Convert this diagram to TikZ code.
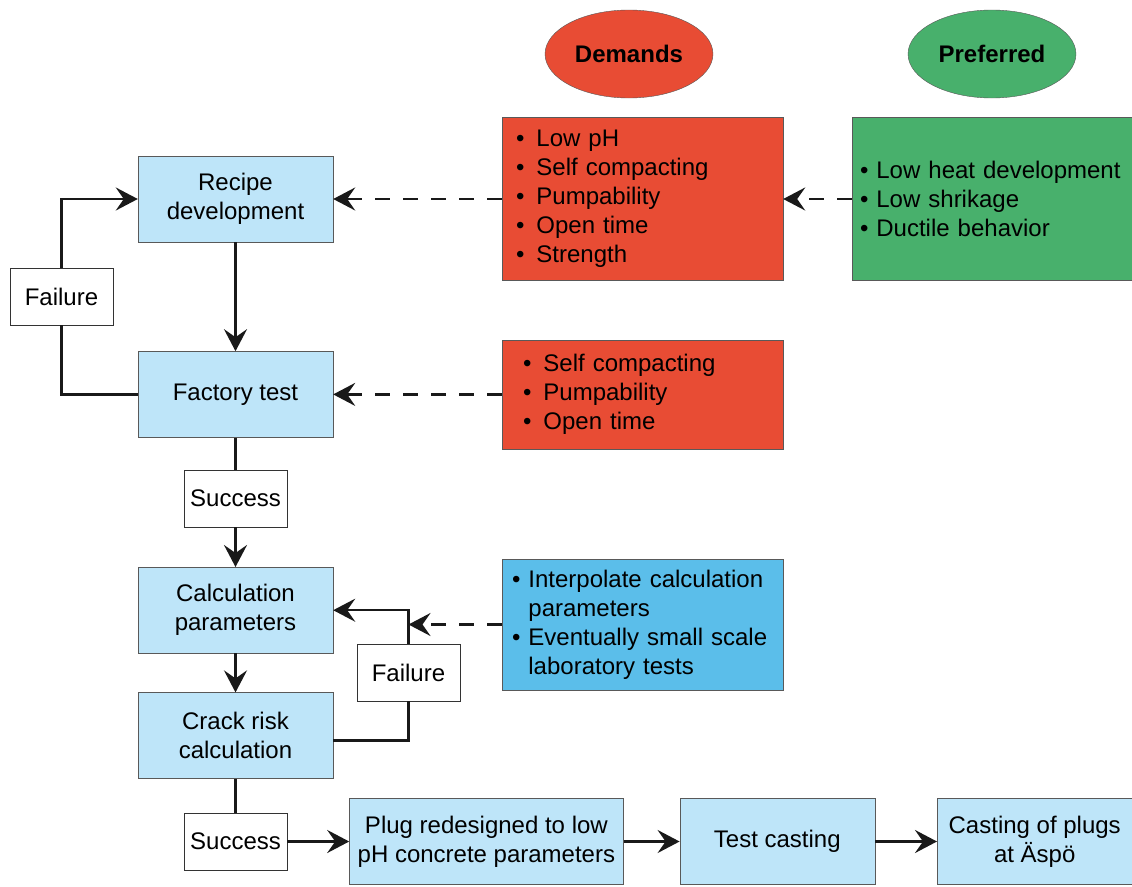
\documentclass[tikz,border=0pt]{standalone}
\usepackage{fontspec}
\setmainfont{Liberation Sans}
\usepackage{tikz}
\usetikzlibrary{arrows.meta,positioning,shapes.geometric,calc}

\definecolor{demandred}{RGB}{232,76,52}
\definecolor{prefgreen}{RGB}{72,176,108}
\definecolor{steplight}{RGB}{190,229,249}
\definecolor{notesblue}{RGB}{91,190,234}
\newcommand{\bigtxt}{\fontsize{24}{29}\selectfont}
\newcommand{\bul}{\textbullet\ }
\newcommand{\rbul}{\textbullet\hspace{12pt}}
\newcommand{\nobul}{\phantom{\textbullet\ }}

\begin{document}
\begin{tikzpicture}[
  x=1pt, y=-1pt,
  stepbox/.style={draw=black!65, fill=steplight, minimum width=195pt, minimum height=86pt,
              inner sep=0pt, align=center, font=\bigtxt},
  outcome/.style={draw=black!80, fill=white, minimum width=103pt, minimum height=57pt,
              inner sep=0pt, font=\bigtxt},
  reqbox/.style={draw=black!65, inner ysep=0pt, align=left, font=\bigtxt},
  tag/.style={ellipse, draw=black!65, minimum width=168pt, minimum height=88pt,
              inner sep=0pt, font=\bigtxt\bfseries},
  arrow/.style={-{Stealth[length=22pt, width=23pt, inset=8pt]}, line width=2.5pt, black!90},
  link/.style={line width=2.5pt, black!90},
  hint/.style={-{Stealth[length=22pt, width=23pt, inset=8pt]}, line width=2.5pt, black!90,
              dash pattern=on 15pt off 13pt}
]
  \useasboundingbox (0,0) rectangle (1132,886);

  % Left: main chain
  \node[stepbox] (recipe) at (235.5,199) {Recipe\\development};
  \node[stepbox, below=109pt of recipe] (factory) {Factory test};
  \node[outcome, below=32pt of factory] (succA) {Success};
  \node[stepbox, below=40pt of succA] (calc) {Calculation\\parameters};
  \node[stepbox, below=39pt of calc] (crack) {Crack risk\\calculation};
  \node[outcome, below=34pt of crack] (succB) {Success};

  % Bottom: final steps
  \node[stepbox, minimum width=274pt, right=62pt of succB] (plug) {Plug redesigned to low\\pH concrete parameters};
  \node[stepbox, right=56pt of plug] (casting) {Test casting};
  \node[stepbox, right=62pt of casting] (plugs) {Casting of plugs\\at Äspö};

  % Failure loops
  \node[outcome] (failA) at (61.5,296.5) {Failure};
  \node[outcome] (failB) at (408.5,672.5) {Failure};

  % Right: requirements
  \node[tag, fill=demandred] (demands) at (629,54) {Demands};
  \node[tag, fill=prefgreen] (preferred) at (992,54) {Preferred};
  \node[reqbox, fill=demandred, inner xsep=14pt, text width=253pt, minimum height=163pt]
    (demA) at (642.5,198.5) {\rbul Low pH\\\rbul Self compacting\\\rbul Pumpability\\\rbul Open time\\\rbul Strength};
  \node[reqbox, fill=prefgreen, inner xsep=8pt, text width=264pt, minimum height=163pt]
    (pref) at (992,198.5) {\bul Low heat development\\\bul Low shrikage\\\bul Ductile behavior};
  \node[reqbox, fill=demandred, inner xsep=21pt, text width=239pt, minimum height=109pt]
    (demB) at (642.5,394.5) {\rbul Self compacting\\\rbul Pumpability\\\rbul Open time};
  \node[reqbox, fill=notesblue, inner xsep=10pt, text width=261pt, minimum height=131pt]
    (interp) at (642.5,624.5) {\bul Interpolate calculation\\\nobul parameters\\\bul Eventually small scale\\\nobul laboratory tests};

  % Arrows
  \draw[arrow] (recipe) -- (factory);
  \draw[link] (factory) -- (succA);
  \draw[arrow] (succA) -- (calc);
  \draw[arrow] (calc) -- (crack);
  \draw[link] (crack) -- (succB);
  \draw[arrow] (succB) -- (plug);
  \draw[arrow] (plug) -- (casting);
  \draw[arrow] (casting) -- (plugs);
  \draw[link] (factory.west) -| (failA.south);
  \draw[arrow] (failA.north) |- (recipe.west);
  \draw[link] ([yshift=-5pt]crack.east) -| (failB.south);
  \draw[arrow] (failB.north) |- (calc.east);

  % Dashed inputs
  \draw[hint] (demA.west |- recipe.east) -- (recipe.east);
  \draw[hint] (pref.west |- recipe.east) -- (demA.east |- recipe.east);
  \draw[hint] (demB.west |- factory.east) -- (factory.east);
  \draw[hint] (interp.west) -- (interp.west -| failB.north);
\end{tikzpicture}
\end{document}
